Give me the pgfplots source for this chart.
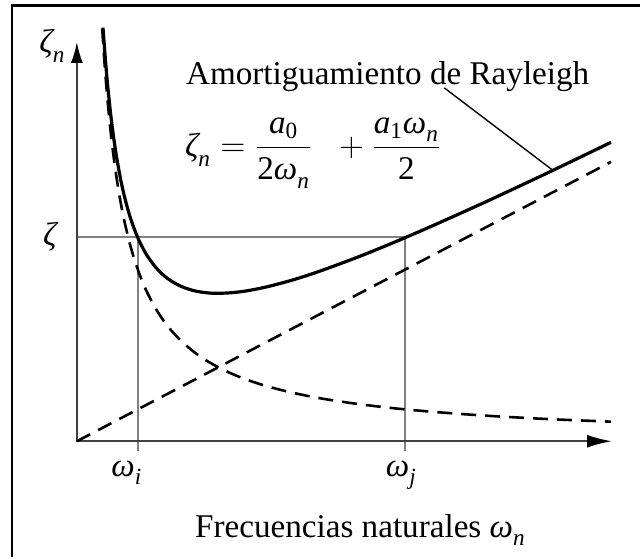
\documentclass[border=0pt]{standalone}
\usepackage{amsmath}
\usepackage{fontspec}
\setmainfont{Liberation Serif}
\usepackage{pgfplots}
\pgfplotsset{compat=1.18}
\usetikzlibrary{arrows.meta}

% italic letters taken from the text font (Times-like), usable in math
\newcommand\vi[1]{\text{\itshape #1}}
\newcommand\vu[1]{\text{#1}}
% slightly lowered subscript
\newcommand\lsub[1]{_{\raisebox{-1.5bp}{$\scriptstyle #1$}}}

\tikzset{lbl/.style={inner sep=0pt, font=\fontsize{16.6bp}{20bp}\selectfont}}

\begin{document}
\begin{tikzpicture}
\begin{axis}[
  x=0.5bp, y=0.5bp,
  xmin=-77, xmax=564, ymin=-116, ymax=442,
  hide axis, clip=false,
]
% page extent and frame
\path (axis cs:-77,-116) rectangle (axis cs:564,442);
\draw[black, line width=1.1bp] (axis cs:-65,-116) -- (axis cs:-65,436.5) -- (axis cs:564,436.5);

% guide lines for zeta, omega_i and omega_j
\draw[black!50, line width=1bp] (axis cs:0,205) -- (axis cs:329,205);
\draw[black!50, line width=1bp] (axis cs:61,-10) -- (axis cs:61,205);
\draw[black!50, line width=1bp] (axis cs:329,-10) -- (axis cs:329,205);

% axes
\draw[black!75, line width=1bp, -{Latex[length=12.5bp,width=6.5bp,black]}] (axis cs:-1,0) -- (axis cs:536,0);
\draw[black!75, line width=1bp, -{Latex[length=10.5bp,width=6bp,black]}] (axis cs:0,-1) -- (axis cs:0,400);

% mass-proportional term a0/(2 omega)
\addplot[black, line width=1.3bp, dash pattern=on 7.5bp off 4.5bp, smooth] coordinates {
 (25.4,413.2) (27,388.7) (29,361.9) (31,338.6) (34,308.7) (37,283.7)
 (40,262.4) (44,238.5) (48,218.7) (53,198.0) (58,181.0) (64,164.0)
 (70,149.9) (78,134.6) (86,122.0) (95,110.5) (105,100.0) (118,88.9)
 (132,79.5) (148,70.9) (165,63.6) (185,56.7) (210,50.0) (240,43.7)
 (275,38.2) (315,33.3) (360,29.2) (410,25.6) (470,22.3) (535,19.6)
};
% stiffness-proportional term a1 omega / 2
\addplot[black, line width=1.3bp, dash pattern=on 7.5bp off 4.5bp] coordinates {
 (0,0) (535,279.8)
};
% Rayleigh damping (sum)
\addplot[black, line width=1.6bp, smooth] coordinates {
 (26.2,414.3) (27,402.8) (29,377.1) (31,354.8) (34,326.5) (37,303.1)
 (40,283.3) (44,261.5) (48,243.8) (53,225.7) (58,211.3) (61,204.0)
 (64,197.5) (70,186.5) (78,175.4) (86,167.0) (95,160.2) (105,154.9)
 (118,150.6) (132,148.5) (142,148.2) (155,148.8) (170,150.6) (190,154.6)
 (215,161.2) (240,169.2) (275,182.0) (300,191.9) (329,204.0) (360,217.5)
 (410,240.0) (470,268.1) (535,299.4)
};

% labels
\node[lbl, anchor=base east] at (axis cs:-11,389) {$\vi{ζ}\lsub{\vi{n}}$};
\node[lbl, anchor=east] at (axis cs:-20,205) {$\vi{ζ}$};
\node[lbl, anchor=base] at (axis cs:50,-35) {$\vi{ω}\lsub{\vi{i}}$};
\node[lbl, anchor=base] at (axis cs:325,-35) {$\vi{ω}\lsub{\vi{j}}$};
\node[lbl, anchor=base] at (axis cs:284,-96) {Frecuencias naturales $\vi{ω}\lsub{\vi{n}}$};

\node[lbl, anchor=base west] at (axis cs:109,357) {Amortiguamiento de Rayleigh};
\node[lbl, anchor=west] at (axis cs:108,289)
  {$\vi{ζ}\lsub{\vi{n}} = \dfrac{\vi{a}_{\vu{0}}}{\vu{2}\vi{ω}\lsub{\vi{n}}}\;\; + \dfrac{\vi{a}_{\vu{1}}\vi{ω}\lsub{\vi{n}}}{\vu{2}}$};
\draw[black, line width=0.7bp] (axis cs:368,354) -- (axis cs:476,272);
\end{axis}
\end{tikzpicture}
\end{document}
